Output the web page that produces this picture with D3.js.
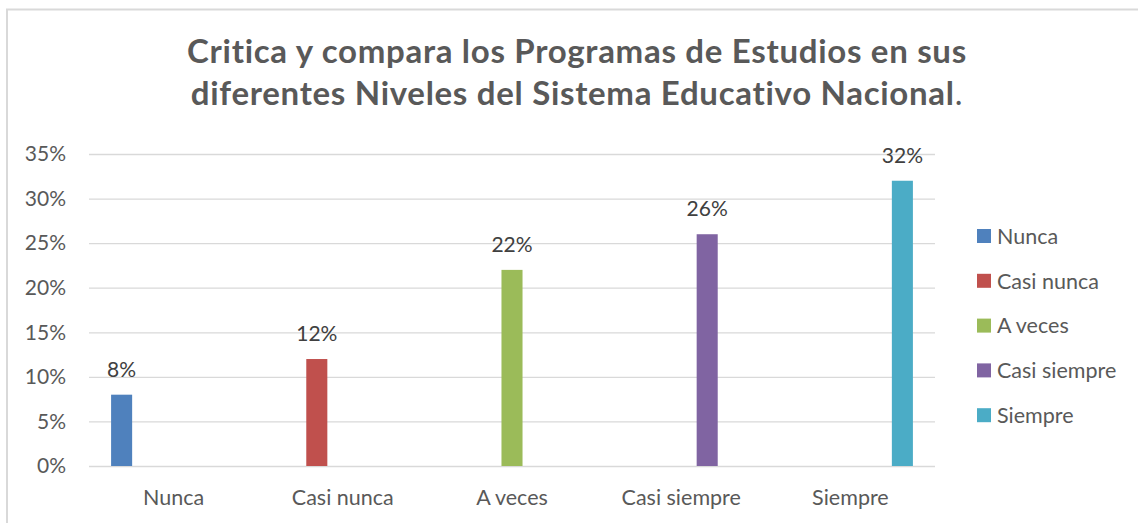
<!DOCTYPE html>
<html>
<head>
<meta charset="utf-8">
<script src="https://cdn.jsdelivr.net/npm/d3@7"></script>
<style>
  body { margin: 0; background: #fff; }
  text { font-family: Lato, "Open Sans", sans-serif; }
</style>
</head>
<body>
<div id="chart"></div>
<script>
// Data
const categories = ["Nunca", "Casi nunca", "A veces", "Casi siempre", "Siempre"];
const seriesNames = ["Nunca", "Casi nunca", "A veces", "Casi siempre", "Siempre"];
const values = [0.08, 0.12, 0.22, 0.26, 0.32];
const yTicks = [0, 0.05, 0.1, 0.15, 0.2, 0.25, 0.3, 0.35];
const seriesColors = ["#4f81bd", "#c0504d", "#9bbb59", "#8064a2", "#4bacc6"];
const titleLines = [
  "Critica y compara los Programas de Estudios en sus",
  "diferentes Niveles del Sistema Educativo Nacional"
];

// each series only has a value in its own category (Excel clustered layout)
var rows = categories.map(function (c, i) {
  return {
    category: c,
    cells: seriesNames.map(function (s, j) {
      return { series: s, idx: j, value: i === j ? values[j] : null };
    })
  };
});

var W = 1138, H = 523;
var plot = { left: 89, right: 935, top: 154, bottom: 466 };

var svg = d3
  .select("#chart")
  .append("svg")
  .attr("width", W)
  .attr("height", H);

// chart area border (only top and left visible in the crop)
svg
  .append("path")
  .attr("d", "M7," + H + " V9.5 H" + W)
  .attr("fill", "none")
  .attr("stroke", "#d9d9d9")
  .attr("stroke-width", 2);

// title
var title = svg
  .append("text")
  .attr("text-anchor", "middle")
  .style("font-size", "33px")
  .style("font-weight", "bold")
  .style("letter-spacing", "0.7px")
  .attr("fill", "#595959");
title.append("tspan").attr("x", 577).attr("y", 63).text(titleLines[0]);
title.append("tspan").attr("x", 577).attr("y", 105).text(titleLines[1]);
title.append("tspan").style("font-weight", "normal").text(".");

var x0 = d3
  .scaleBand()
  .domain(categories)
  .range([plot.left, plot.right]);

var x1 = d3
  .scaleBand()
  .domain(seriesNames)
  .range([0, x0.bandwidth()])
  .paddingInner(0.19)
  .paddingOuter(0.85);

var y = d3.scaleLinear().domain([0, 0.35]).range([plot.bottom, plot.top]);

// Y axis + gridlines
var yAxis = svg
  .append("g")
  .attr("transform", "translate(" + plot.left + ",0)")
  .call(
    d3
      .axisLeft(y)
      .tickValues(yTicks)
      .tickSize(-(plot.right - plot.left))
      .tickPadding(23)
      .tickFormat(d3.format(".0%"))
  );
yAxis.select(".domain").remove();
yAxis.selectAll("line").attr("stroke", "#d9d9d9").attr("stroke-width", 1.3);
yAxis
  .selectAll("text")
  .attr("fill", "#595959")
  .style("font-size", "21px");

// X axis
var xAxis = svg
  .append("g")
  .attr("transform", "translate(0," + plot.bottom + ")")
  .call(d3.axisBottom(x0).tickSize(0).tickPadding(24));
xAxis.select(".domain").remove();
xAxis
  .selectAll("text")
  .attr("fill", "#595959")
  .style("font-size", "21.5px");

// bars
var groups = svg
  .selectAll(".group")
  .data(rows)
  .enter()
  .append("g")
  .attr("class", "group")
  .attr("transform", function (d) {
    return "translate(" + x0(d.category) + ",0)";
  });

groups
  .selectAll(".bar")
  .data(function (d) {
    return d.cells.filter(function (c) {
      return c.value !== null;
    });
  })
  .enter()
  .append("rect")
  .attr("class", "bar")
  .attr("x", function (d) {
    return x1(d.series);
  })
  .attr("y", function (d) {
    return y(d.value);
  })
  .attr("width", x1.bandwidth())
  .attr("height", function (d) {
    return y(0) - y(d.value);
  })
  .attr("fill", function (d) {
    return seriesColors[d.idx];
  });

// data labels
groups
  .selectAll(".label")
  .data(function (d) {
    return d.cells.filter(function (c) {
      return c.value !== null;
    });
  })
  .enter()
  .append("text")
  .attr("class", "label")
  .attr("x", function (d) {
    return x1(d.series) + x1.bandwidth() / 2;
  })
  .attr("y", function (d) {
    return y(d.value) - 18;
  })
  .attr("text-anchor", "middle")
  .attr("fill", "#404040")
  .style("font-size", "21px")
  .text(function (d) {
    return d3.format(".0%")(d.value);
  });

// legend
var legend = svg
  .selectAll(".legend")
  .data(seriesNames)
  .enter()
  .append("g")
  .attr("class", "legend")
  .attr("transform", function (d, i) {
    return "translate(977," + (236 + i * 44.8) + ")";
  });
legend
  .append("rect")
  .attr("y", -7)
  .attr("width", 14)
  .attr("height", 14)
  .attr("fill", function (d, i) {
    return seriesColors[i];
  });
legend
  .append("text")
  .attr("x", 20)
  .attr("dy", "0.36em")
  .attr("fill", "#595959")
  .style("font-size", "21.5px")
  .text(function (d) {
    return d;
  });
</script>
</body>
</html>
